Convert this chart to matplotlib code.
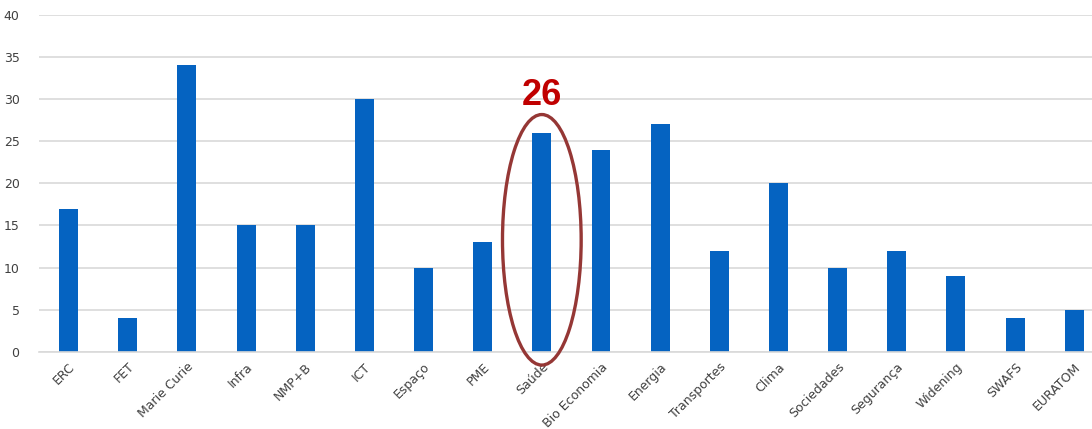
import numpy as np
import matplotlib
matplotlib.use('Agg')
import matplotlib.pyplot as plt
from matplotlib.patches import Ellipse

# data
categorias = ['ERC', 'FET', 'Marie Curie', 'Infra', 'NMP+B', 'ICT', 'Espaço', 'PME',
              'Saúde', 'Bio Economia', 'Energia', 'Transportes', 'Clima', 'Sociedades',
              'Segurança', 'Widening', 'SWAFS', 'EURATOM']
valores = [17, 4, 34, 15, 15, 30, 10, 13, 26, 24, 27, 12, 20, 10, 12, 9, 4, 5]
y_ticks = [0, 5, 10, 15, 20, 25, 30, 35, 40]
destaque = 'Saúde'

fig = plt.figure(figsize=(10.92, 4.29), dpi=100)
ax = fig.add_axes([0.0357, 0.1795, 0.9643, 0.7865])

x = np.arange(len(categorias))
ax.bar(x, valores, width=0.32, color='#0563C1', zorder=2)

ax.set_xlim(-0.5, len(categorias) - 0.7)
ax.set_ylim(0, 40)
ax.set_yticks(y_ticks)
ax.set_xticks(x)
ax.set_xticklabels(categorias, rotation=45, ha='right', rotation_mode='anchor')
ax.tick_params(axis='both', length=0, labelsize=9, colors='#404040')
ax.tick_params(axis='x', pad=6)
ax.tick_params(axis='y', pad=14)
for lab in ax.get_yticklabels():
    lab.set_horizontalalignment('right')

ax.grid(axis='y', color='#d9d9d9', linewidth=1.2, zorder=0)
for s in ['top', 'right', 'left']:
    ax.spines[s].set_visible(False)
ax.spines['bottom'].set_color('#d9d9d9')
ax.spines['bottom'].set_linewidth(1.2)

# destaque
i = categorias.index(destaque)
v = valores[i]
ax.add_patch(Ellipse((i, 13.3), 1.33, 29.7, fill=False, edgecolor='#953735',
                     linewidth=2.4, zorder=3, clip_on=False))
ax.text(i, 30.4, str(v), ha='center', va='center', fontsize=26,
        fontweight='bold', color='#C00000', family='Liberation Sans')

fig.savefig('out.png', dpi=100)
